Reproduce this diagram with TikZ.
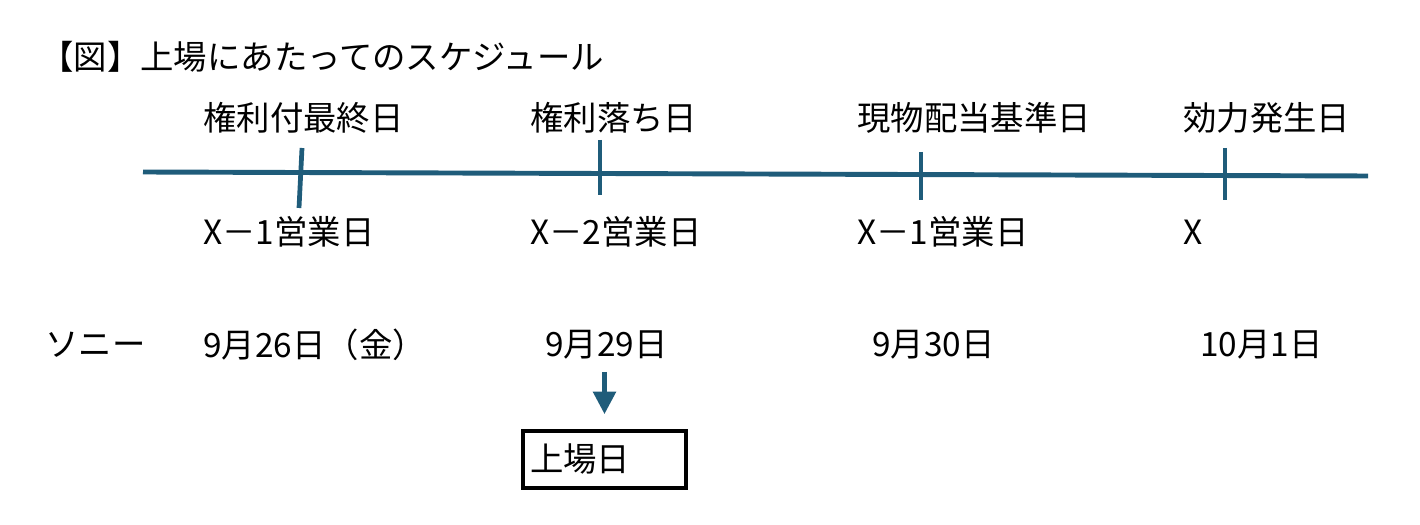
\documentclass[tikz,border=0pt]{standalone}
\usepackage{fontspec}
\setmainfont{Noto Sans CJK JP}
\usetikzlibrary{positioning,calc,arrows.meta}
\definecolor{lineblue}{RGB}{31,92,122}

\begin{document}
\begin{tikzpicture}[x=0.2mm,y=-0.2mm,
        every node/.style={font=\fontsize{19}{23}\selectfont,inner sep=0pt},
        lbl/.style={anchor=west},
        tick/.style={draw=lineblue,line width=2.7pt},
        arr/.style={draw=lineblue,line width=2.5pt,-{Triangle[length=4.5mm,width=4.5mm]}},
        box/.style={draw,line width=2.2pt,minimum width=32.6mm,minimum height=11.4mm,
            text width=29.8mm,inner xsep=1.4mm}]
   \useasboundingbox (0,0) rectangle (1420,525);
   \node (T) [lbl] at (40,57) {【図】上場にあたってのスケジュール};

   % timeline
   \coordinate (L0) at (143,172);
   \coordinate (L1) at (1368,176);
   \draw[lineblue,line width=2.8pt] (L0) -- (L1);
   \coordinate (P1) at (302,148); \coordinate (Q1) at (299,208);
   \coordinate (P2) at (600,140); \coordinate (Q2) at (600,195);
   \coordinate (P3) at (921,152); \coordinate (Q3) at (921,200);
   \coordinate (P4) at (1225,148); \coordinate (Q4) at (1225,200);
   \draw[tick] (P1) -- (Q1);
   \draw[tick] (P2) -- (Q2);
   \draw[tick] (P3) -- (Q3);
   \draw[tick] (P4) -- (Q4);

   \node (A) [lbl] at (203,118) {権利付最終日};
   \node (B) [lbl] at (530,118) {権利落ち日};
   \node (C) [lbl] at (857,118) {現物配当基準日};
   \node (D) [lbl] at (1183,118) {効力発生日};

   \node (A1) [lbl] at (203,232) {X－1営業日};
   \node (B1) [lbl] at (530,232) {X－2営業日};
   \node (C1) [lbl] at (857,232) {X－1営業日};
   \node (D1) [lbl] at (1183,232) {X};

   \node (S) [lbl] at (45,345) {ソニー};
   \node (A2) [lbl] at (203,345) {9月26日（金）};
   \node (B2) [lbl] at (545,345) {9月29日};
   \node (C2) [lbl] at (872,345) {9月30日};
   \node (D2) [lbl] at (1200,345) {10月1日};

   \node (E) [box] at (604.5,459.5) {上場日};
   \draw[arr] ([yshift=-2.4mm]B2.south -| E.north) -- ([yshift=3mm]E.north);
\end{tikzpicture}
\end{document}
